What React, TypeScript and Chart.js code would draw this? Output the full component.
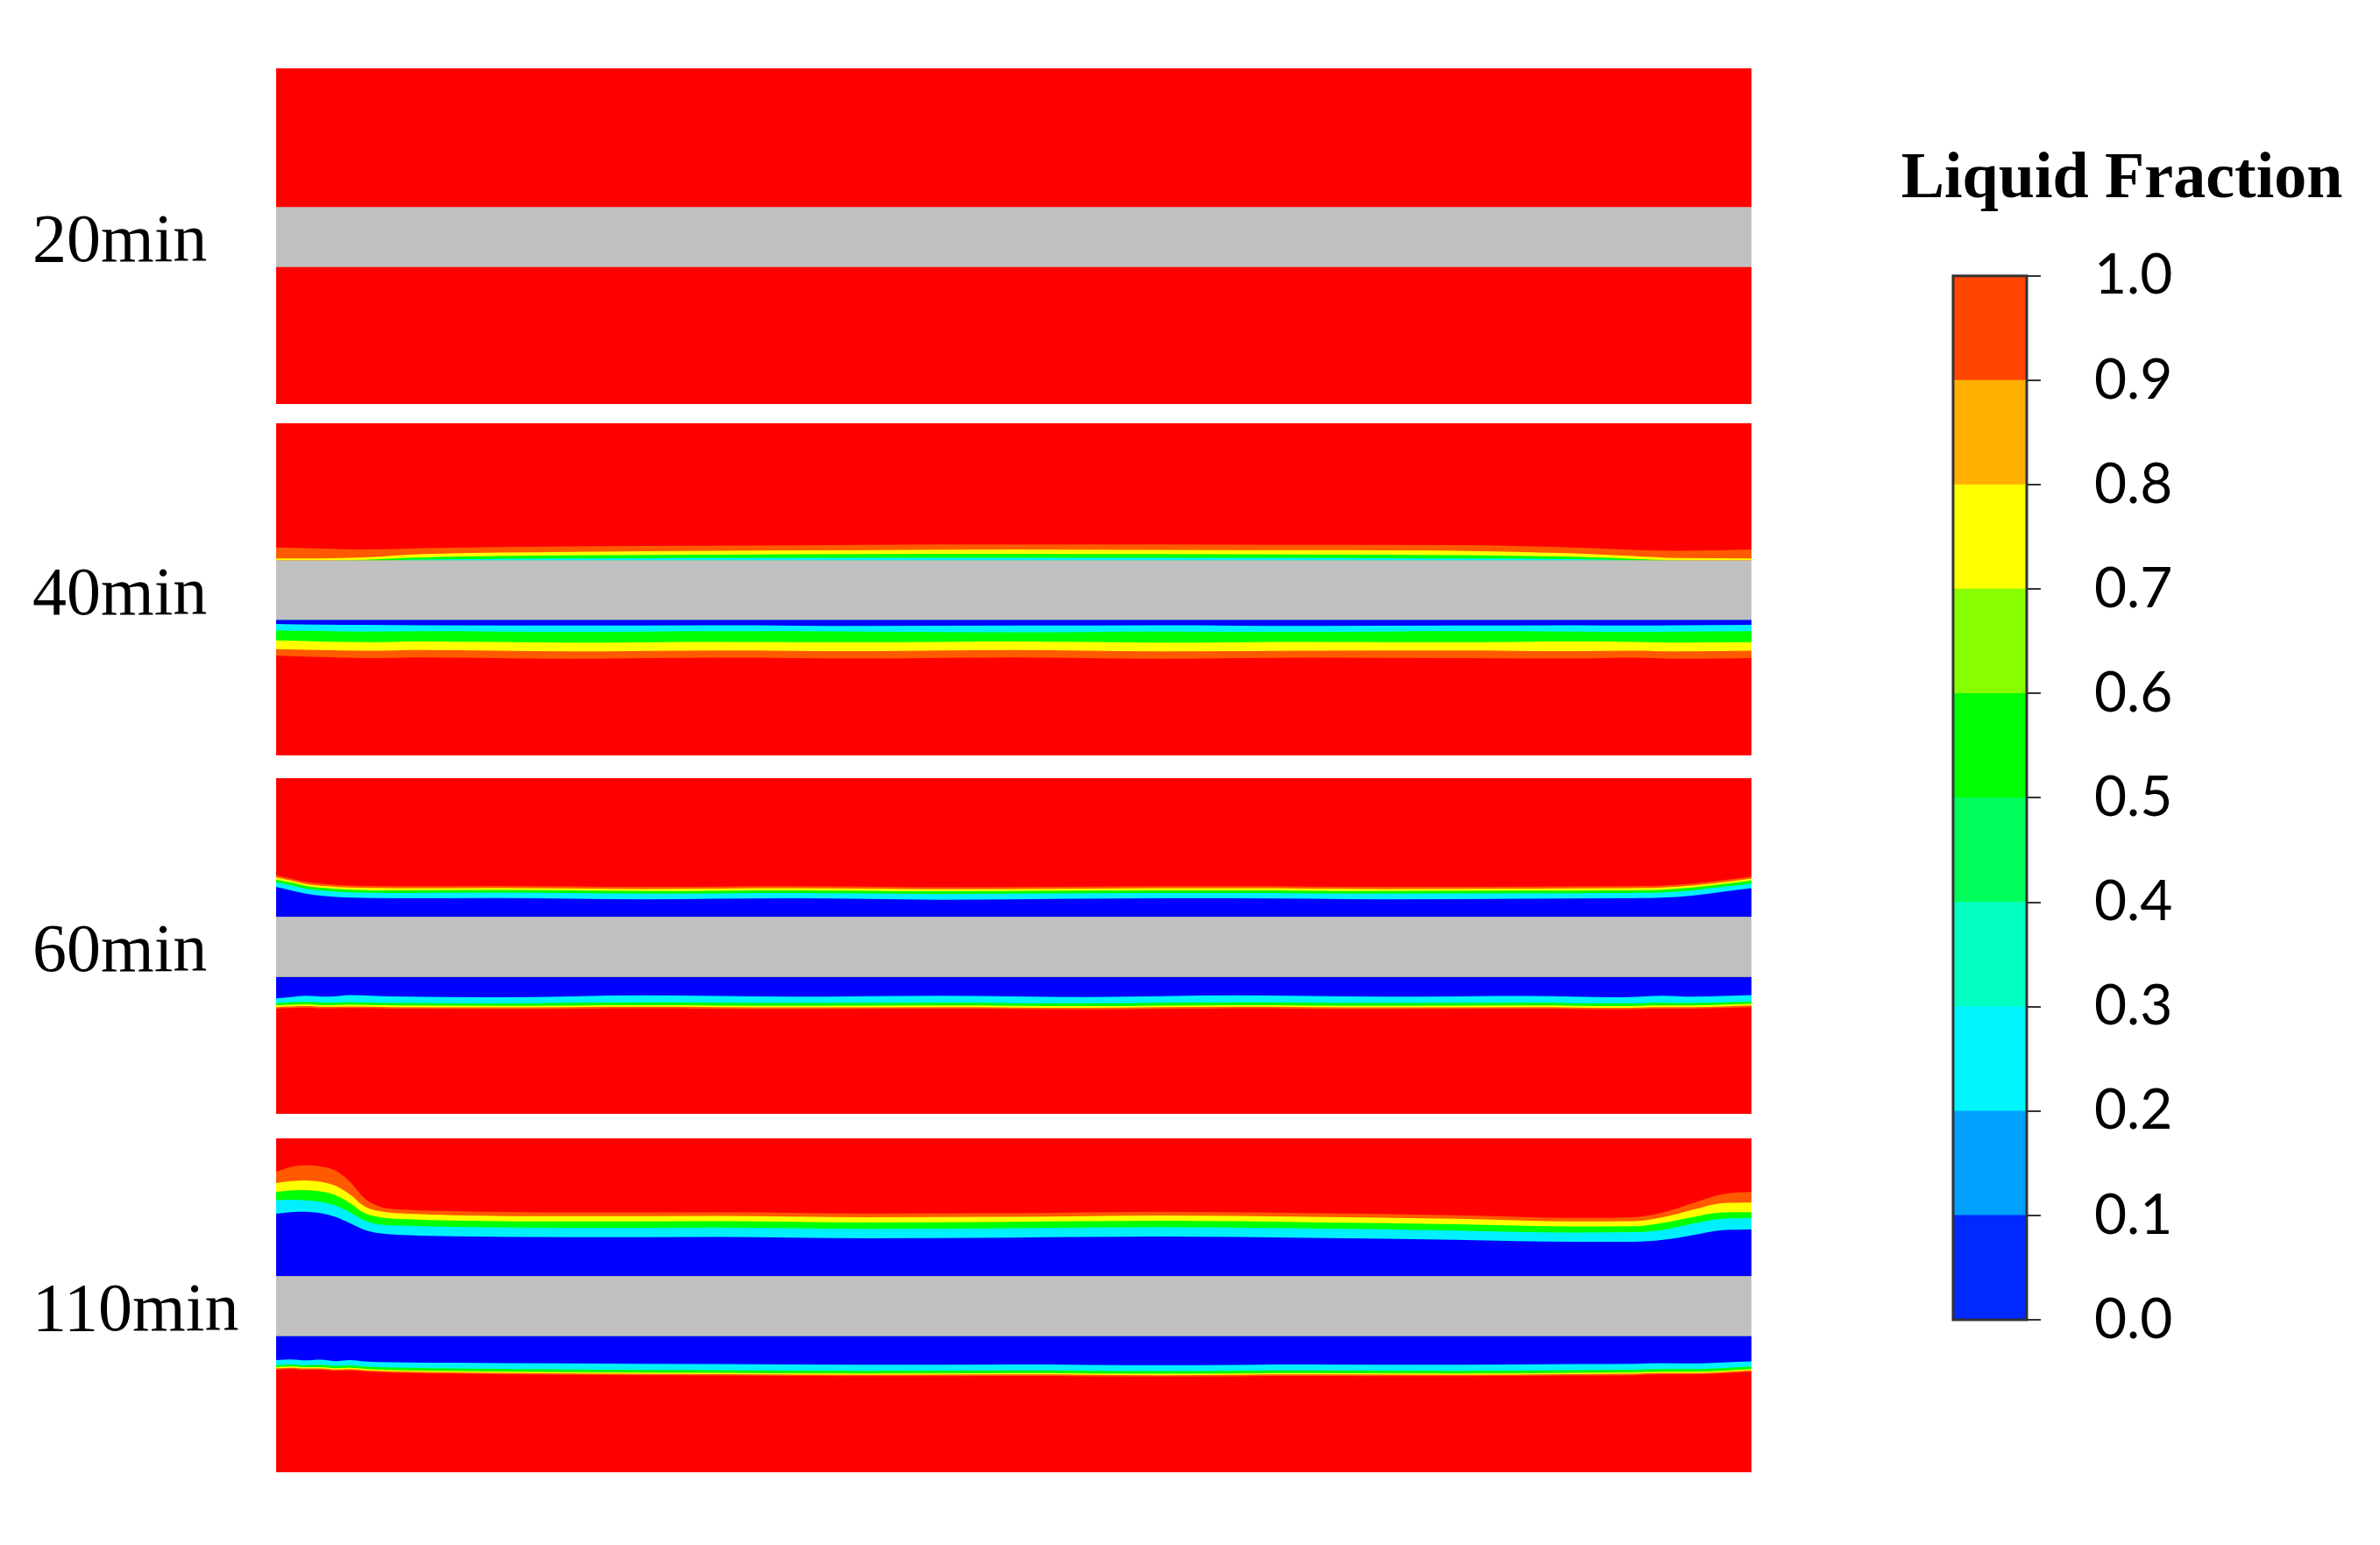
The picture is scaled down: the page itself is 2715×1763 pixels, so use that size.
import React, { useEffect, useRef } from "react";
import { Chart, registerables } from "chart.js";

Chart.register(...registerables);

// ---------------- data ----------------
const timeLabels = ["20min", "40min", "60min", "110min"];

// wall (grey tube wall) position in each panel, % of panel height (0 = bottom, 100 = top)
const wallTop = 58.7;
const wallBottom = 40.8;

// x positions along the panel (% of length)
const x20 = [0, 100];

const x40 = [0, 3, 6, 10, 20, 30, 40, 50, 60, 70, 80, 88, 92, 95, 100];
const up40Orange = [62.6, 62.3, 62.0, 62.4, 62.9, 63.1, 63.4, 63.5, 63.5, 63.4, 63.3, 62.6, 61.9, 61.6, 62.0];
const up40Yellow = [59.3, 59.3, 59.6, 60.6, 61.3, 61.6, 61.8, 62.0, 61.9, 61.8, 61.6, 60.8, 60.0, 59.4, 59.3];
const up40Green = [58.7, 58.7, 58.9, 59.6, 60.2, 60.4, 60.6, 60.7, 60.6, 60.5, 60.3, 59.8, 59.2, 58.8, 58.7];
const up40Cyan = [58.7, 58.7, 58.7, 59.0, 59.3, 59.4, 59.5, 59.5, 59.5, 59.4, 59.3, 59.1, 58.8, 58.7, 58.7];
const lo40Blue = [39.6, 39.4, 39.3, 39.2, 39.1, 39.2, 39.0, 39.1, 39.2, 39.0, 39.1, 39.2, 39.1, 39.2, 39.3];
const lo40Cyan = [37.6, 37.5, 37.3, 37.4, 37.2, 37.4, 37.3, 37.1, 37.3, 37.2, 37.4, 37.3, 37.2, 37.3, 37.4];
const lo40Green = [34.6, 34.3, 34.1, 34.3, 34.0, 34.2, 34.1, 34.3, 34.0, 34.2, 34.1, 34.3, 34.2, 34.0, 34.1];
const lo40Yellow = [32.0, 31.7, 31.5, 31.7, 31.3, 31.6, 31.4, 31.7, 31.3, 31.5, 31.6, 31.4, 31.5, 31.3, 31.5];
const lo40Orange = [30.0, 29.6, 29.3, 29.5, 29.1, 29.4, 29.2, 29.5, 29.1, 29.4, 29.3, 29.2, 29.4, 29.1, 29.3];

const x60 = [0, 1, 2, 3.5, 5, 8, 15, 25, 35, 45, 55, 65, 75, 85, 91, 94, 96, 98, 100];
const up60Orange = [71.0, 70.1, 69.1, 68.4, 68.0, 67.8, 67.9, 67.6, 67.8, 67.5, 67.7, 67.8, 67.6, 67.7, 67.8, 68.0, 68.6, 69.6, 70.7];
const up60Yellow = [70.4, 69.5, 68.5, 67.8, 67.4, 67.2, 67.3, 67.0, 67.2, 66.9, 67.1, 67.2, 67.0, 67.1, 67.2, 67.4, 68.0, 69.0, 70.1];
const up60Green = [69.8, 68.9, 67.9, 67.2, 66.8, 66.6, 66.7, 66.4, 66.6, 66.3, 66.5, 66.6, 66.4, 66.5, 66.6, 66.8, 67.4, 68.4, 69.5];
const up60Cyan = [69.0, 68.1, 67.1, 66.4, 66.0, 65.8, 65.9, 65.6, 65.8, 65.5, 65.7, 65.8, 65.6, 65.7, 65.8, 66.0, 66.6, 67.6, 68.7];
const up60Blue = [67.6, 66.6, 65.6, 64.8, 64.4, 64.2, 64.3, 63.9, 64.2, 63.8, 64.1, 64.2, 63.9, 64.1, 64.2, 64.4, 65.0, 66.1, 67.2];
const lo60Blue = [34.4, 34.8, 35.2, 34.9, 35.4, 35.0, 34.7, 35.3, 34.9, 35.2, 34.8, 35.3, 34.9, 35.1, 34.7, 35.2, 34.9, 35.1, 35.4];
const lo60Cyan = [33.0, 33.2, 33.4, 33.1, 33.3, 33.0, 32.9, 33.2, 33.0, 33.1, 32.9, 33.2, 33.0, 33.1, 32.9, 33.1, 33.0, 33.2, 33.5];
const lo60Green = [32.3, 32.5, 32.6, 32.4, 32.5, 32.3, 32.2, 32.4, 32.2, 32.3, 32.1, 32.4, 32.2, 32.3, 32.1, 32.3, 32.3, 32.5, 32.8];
const lo60Yellow = [31.8, 32.0, 32.1, 31.9, 32.0, 31.8, 31.7, 31.9, 31.7, 31.8, 31.6, 31.9, 31.7, 31.8, 31.6, 31.8, 31.8, 32.0, 32.3];
const lo60Orange = [31.3, 31.5, 31.6, 31.4, 31.5, 31.3, 31.2, 31.4, 31.2, 31.3, 31.1, 31.4, 31.2, 31.3, 31.1, 31.3, 31.3, 31.5, 31.8];

const x110 = [0, 1, 2, 3, 4, 5, 6, 7, 9, 12, 20, 30, 40, 50, 60, 70, 80, 88, 92, 94, 96, 98, 100];
const up110Orange = [90.0, 91.4, 91.9, 91.6, 90.4, 87.0, 82.0, 79.6, 78.6, 78.2, 77.8, 77.9, 77.5, 77.6, 78.0, 77.6, 77.0, 76.2, 76.4, 77.8, 80.6, 83.3, 84.0];
const up110Yellow = [86.6, 87.2, 87.4, 87.0, 85.8, 83.2, 79.6, 78.2, 77.4, 77.0, 76.7, 76.8, 76.4, 76.5, 76.9, 76.5, 75.9, 75.1, 75.2, 76.4, 78.6, 80.6, 80.8];
const up110Green = [84.0, 84.4, 84.5, 84.1, 83.0, 80.6, 77.6, 76.4, 75.8, 75.4, 75.1, 75.2, 74.8, 75.0, 75.3, 74.9, 74.3, 73.6, 73.7, 74.7, 76.4, 77.8, 77.9];
const up110Cyan = [81.4, 81.6, 81.4, 81.0, 79.9, 77.8, 75.4, 74.2, 73.8, 73.5, 73.2, 73.3, 72.9, 73.1, 73.4, 73.0, 72.4, 71.8, 71.9, 72.6, 74.4, 75.9, 76.1];
const up110Blue = [77.4, 77.9, 78.0, 77.6, 76.5, 74.6, 72.6, 71.6, 71.0, 70.7, 70.4, 70.5, 70.1, 70.3, 70.6, 70.2, 69.6, 69.0, 69.0, 69.6, 71.0, 72.5, 72.7];
const lo110Blue = [33.6, 33.8, 33.5, 33.7, 33.3, 33.6, 33.2, 33.0, 32.9, 32.8, 32.6, 32.4, 32.2, 32.3, 32.1, 32.3, 32.2, 32.4, 32.5, 32.7, 32.6, 32.9, 33.2];
const lo110Cyan = [32.1, 32.3, 32.1, 32.2, 31.9, 32.0, 31.7, 31.5, 31.3, 31.1, 30.8, 30.6, 30.4, 30.5, 30.3, 30.5, 30.4, 30.6, 30.7, 30.9, 30.9, 31.2, 31.6];
const lo110Green = [31.5, 31.7, 31.5, 31.5, 31.2, 31.3, 31.0, 30.8, 30.5, 30.3, 30.0, 29.8, 29.6, 29.7, 29.5, 29.7, 29.6, 29.8, 29.9, 30.1, 30.1, 30.4, 30.9];
const lo110Yellow = [31.1, 31.3, 31.1, 31.1, 30.8, 30.9, 30.6, 30.4, 30.1, 29.9, 29.6, 29.4, 29.2, 29.3, 29.1, 29.3, 29.2, 29.4, 29.5, 29.7, 29.7, 30.0, 30.5];
const lo110Orange = [30.7, 30.9, 30.7, 30.7, 30.4, 30.5, 30.2, 30.0, 29.7, 29.5, 29.2, 29.0, 28.8, 28.9, 28.7, 28.9, 28.8, 29.0, 29.1, 29.3, 29.3, 29.6, 30.1];

// colour bar
const cbBounds = [0.0, 0.1, 0.2, 0.3, 0.4, 0.5, 0.6, 0.7, 0.8, 0.9, 1.0];
const cbColors = ["#0028FF", "#00A0FF", "#00F5FF", "#00FFC0", "#00FF5A", "#00FF00", "#88FF00", "#FFFF00", "#FFB000", "#FF4500"];
const cbTitle = "Liquid Fraction";

// ---------------- styles / layout ----------------
const RED = "#FF0000";
const ORANGE = "#FF5A00";
const YELLOW = "#FFFF00";
const GREEN = "#00FF00";
const CYAN = "#00F0FF";
const BLUE = "#0000FF";
const GRAY = "#C0C0C0";

const PANEL_TOP = [78, 483, 888, 1299];
const PANEL_H = [383, 379, 383, 381];
const PANEL_LEFT = 315;
const PANEL_RIGHT = 1998;
const LABEL_X = 37;

type Layer = [string, number[]];
interface PanelDef { label: string; x: number[]; upper: Layer[]; lower: Layer[] }

const panels: PanelDef[] = [
  { label: timeLabels[0], x: x20, upper: [], lower: [] },
  {
    label: timeLabels[1], x: x40,
    upper: [[ORANGE, up40Orange], [YELLOW, up40Yellow], [GREEN, up40Green], [CYAN, up40Cyan]],
    lower: [[ORANGE, lo40Orange], [YELLOW, lo40Yellow], [GREEN, lo40Green], [CYAN, lo40Cyan], [BLUE, lo40Blue]],
  },
  {
    label: timeLabels[2], x: x60,
    upper: [[ORANGE, up60Orange], [YELLOW, up60Yellow], [GREEN, up60Green], [CYAN, up60Cyan], [BLUE, up60Blue]],
    lower: [[ORANGE, lo60Orange], [YELLOW, lo60Yellow], [GREEN, lo60Green], [CYAN, lo60Cyan], [BLUE, lo60Blue]],
  },
  {
    label: timeLabels[3], x: x110,
    upper: [[ORANGE, up110Orange], [YELLOW, up110Yellow], [GREEN, up110Green], [CYAN, up110Cyan], [BLUE, up110Blue]],
    lower: [[ORANGE, lo110Orange], [YELLOW, lo110Yellow], [GREEN, lo110Green], [CYAN, lo110Cyan], [BLUE, lo110Blue]],
  },
];

function bandDs(xs: number[], ys: number[], color: string, fillTo: number, order: number) {
  return {
    data: xs.map((x, i) => ({ x, y: ys[i] })),
    borderColor: "rgba(0,0,0,0)",
    borderWidth: 0,
    backgroundColor: color,
    fill: { value: fillTo },
    pointRadius: 0,
    cubicInterpolationMode: "monotone" as const,
    order,
  };
}

const timeLabelPlugin = {
  id: "timeLabel",
  afterDraw(chart: any, _args: any, opts: any) {
    const { ctx } = chart;
    const y = chart.scales.y;
    const yc = (y.getPixelForValue(wallTop) + y.getPixelForValue(wallBottom)) / 2;
    ctx.save();
    ctx.font = '78px "Liberation Serif", "Times New Roman", serif';
    ctx.fillStyle = "#000";
    ctx.textAlign = "left";
    ctx.textBaseline = "alphabetic";
    ctx.fillText(opts.text, LABEL_X, yc + 28);
    ctx.restore();
  },
};

const outlinePlugin = {
  id: "barOutline",
  afterDatasetsDraw(chart: any) {
    const { ctx, chartArea: a } = chart;
    ctx.save();
    ctx.strokeStyle = "#333";
    ctx.lineWidth = 3;
    ctx.strokeRect(a.left, a.top, a.right - a.left, a.bottom - a.top);
    ctx.restore();
  },
};

function buildPanel(canvas: HTMLCanvasElement, p: PanelDef) {
  const datasets: any[] = [];
  let order = 100;
  datasets.push(bandDs([0, 100], [100, 100], RED, 0, order--));
  for (const [c, ys] of p.upper) datasets.push(bandDs(p.x, ys, c, wallTop, order--));
  for (const [c, ys] of p.lower) datasets.push(bandDs(p.x, ys, c, wallBottom, order--));
  datasets.push(bandDs([0, 100], [wallTop, wallTop], GRAY, wallBottom, 0));
  return new Chart(canvas, {
    type: "line",
    data: { datasets },
    options: {
      animation: false,
      responsive: false,
      maintainAspectRatio: false,
      layout: { padding: { left: PANEL_LEFT, right: 0, top: 0, bottom: 0 } },
      scales: {
        x: { type: "linear", min: 0, max: 100, display: false },
        y: { type: "linear", min: 0, max: 100, display: false },
      },
      plugins: {
        legend: { display: false },
        tooltip: { enabled: false },
        timeLabel: { text: p.label },
      } as any,
    },
    plugins: [timeLabelPlugin],
  });
}

const CB_LEFT = 2128;
const CB_TOP = 120;
const CB_W = 587;
const CB_H = 1506;

function buildColorbar(canvas: HTMLCanvasElement) {
  return new Chart(canvas, {
    type: "bar",
    data: {
      labels: [""],
      datasets: cbColors.map((c, i) => ({
        data: [[cbBounds[i], cbBounds[i + 1]]] as any,
        backgroundColor: c,
        borderWidth: 0,
        barPercentage: 1,
        categoryPercentage: 1,
        grouped: false,
        yAxisID: "y",
      })),
    },
    options: {
      animation: false,
      responsive: false,
      maintainAspectRatio: false,
      layout: { padding: { left: 28, right: 30, top: 0, bottom: 120 } },
      scales: {
        x: { display: false },
        yPad: {
          type: "linear",
          position: "left",
          display: true,
          ticks: { display: false },
          grid: { display: false },
          border: { display: false },
          afterFit: (scale: any) => { scale.width = 72; },
        },
        y: {
          position: "right",
          min: 0,
          max: 1,
          afterFit: (scale: any) => { scale.width = 373; },
          ticks: {
            stepSize: 0.1,
            callback: (v: any) => Number(v).toFixed(1),
            font: { family: "Lato", size: 64 },
            color: "#000",
            padding: 61,
          },
          grid: { drawOnChartArea: false, drawTicks: true, tickLength: 16, color: "#333", lineWidth: 2 },
          border: { display: true, color: "#333", width: 2 },
        },
      } as any,
      plugins: {
        legend: { display: false },
        tooltip: { enabled: false },
        title: {
          display: true,
          text: cbTitle,
          color: "#000",
          font: { family: '"Liberation Serif"', size: 74, weight: "bold" },
          padding: { top: 41, bottom: 65 },
        },
      },
    },
    plugins: [outlinePlugin],
  });
}

export default function App() {
  const panelRefs = useRef<(HTMLCanvasElement | null)[]>([]);
  const cbRef = useRef<HTMLCanvasElement | null>(null);

  useEffect(() => {
    const charts: Chart[] = [];
    panels.forEach((p, i) => {
      const c = panelRefs.current[i];
      if (c) charts.push(buildPanel(c, p));
    });
    if (cbRef.current) charts.push(buildColorbar(cbRef.current));
    return () => charts.forEach((c) => c.destroy());
  }, []);

  return (
    <div style={{ position: "fixed", left: 0, top: 0, width: 2715, height: 1763, background: "#fff", overflow: "hidden" }}>
      {panels.map((p, i) => (
        <canvas
          key={p.label}
          ref={(el) => { panelRefs.current[i] = el; }}
          width={PANEL_RIGHT}
          height={PANEL_H[i]}
          style={{ position: "absolute", left: 0, top: PANEL_TOP[i], width: PANEL_RIGHT, height: PANEL_H[i], display: "block" }}
        />
      ))}
      <canvas
        ref={cbRef}
        width={CB_W}
        height={CB_H}
        style={{ position: "absolute", left: CB_LEFT, top: CB_TOP, width: CB_W, height: CB_H, display: "block" }}
      />
    </div>
  );
}
